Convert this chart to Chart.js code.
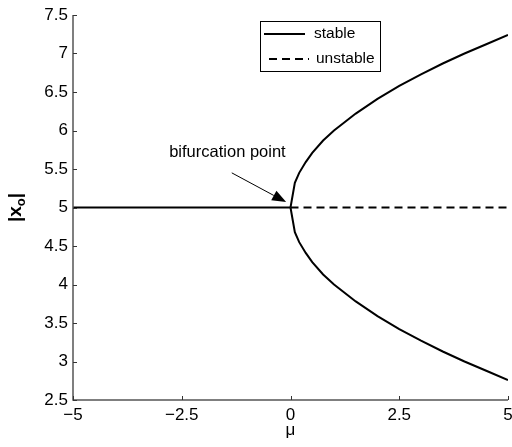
<!DOCTYPE html>
<html>
<head>
<meta charset="utf-8">
<script src="https://cdn.jsdelivr.net/npm/chart.js@4.4.1/dist/chart.umd.min.js"></script>
<style>
  html, body { margin: 0; padding: 0; background: #fff; }
  #wrap { width: 512px; height: 447px; position: relative; }
</style>
</head>
<body>
<div id="wrap"><canvas id="c" width="512" height="447"></canvas></div>
<script>
// ---- data ----
const stableLeftX = [-5, 0];
const stableLeftY = [5, 5];
const branchMu    = [0, 0.1, 0.2, 0.35, 0.5, 0.75, 1, 1.5, 2, 2.5, 3, 3.5, 4, 4.5, 5];
const branchUpper = [5, 5.32, 5.45, 5.59, 5.71, 5.87, 6.0, 6.22, 6.41, 6.58, 6.73, 6.87, 7.0, 7.12, 7.24];
const branchLower = [5, 4.68, 4.55, 4.41, 4.29, 4.13, 4.0, 3.78, 3.59, 3.42, 3.27, 3.13, 3.0, 2.88, 2.76];
const unstableX   = [0, 5];
const unstableY   = [5, 5];
const xTickValues = [-5, -2.5, 0, 2.5, 5];
const xTickLabels = ['\u22125', '\u22122.5', '0', '2.5', '5'];
const yTickValues = [2.5, 3, 3.5, 4, 4.5, 5, 5.5, 6, 6.5, 7, 7.5];
const yTickLabels = ['2.5', '3', '3.5', '4', '4.5', '5', '5.5', '6', '6.5', '7', '7.5'];
const legendLabels = ['stable', 'unstable'];
const annotationText = 'bifurcation point';

const pts = (xs, ys) => xs.map((x, i) => ({ x: x, y: ys[i] }));
const FONT = '"Liberation Sans", Arial, Helvetica, sans-serif';

const lineBase = { borderColor: '#000', borderWidth: 2, pointRadius: 0, fill: false, tension: 0 };

const datasets = [
  Object.assign({ label: legendLabels[0], data: pts(stableLeftX, stableLeftY) }, lineBase),
  Object.assign({ label: legendLabels[0], data: pts(branchMu, branchUpper) }, lineBase),
  Object.assign({ label: legendLabels[0], data: pts(branchMu, branchLower) }, lineBase),
  Object.assign({ label: legendLabels[1], data: pts(unstableX, unstableY), borderDash: [8, 5] }, lineBase)
];

const decorPlugin = {
  id: 'decor',
  afterDraw(chart) {
    const ctx = chart.ctx;
    const xs = chart.scales.x, ys = chart.scales.y;
    const ca = chart.chartArea;
    ctx.save();
    // axes lines
    ctx.strokeStyle = '#555';
    ctx.lineWidth = 1.5;
    ctx.beginPath();
    ctx.moveTo(ca.left, ca.top);
    ctx.lineTo(ca.left, ca.bottom);
    ctx.lineTo(ca.right, ca.bottom);
    ctx.stroke();
    // inward tick marks
    ctx.lineWidth = 1;
    ctx.strokeStyle = '#333';
    ctx.beginPath();
    yTickValues.forEach(v => {
      const py = Math.round(ys.getPixelForValue(v)) + 0.5;
      ctx.moveTo(ca.left, py); ctx.lineTo(ca.left + 4, py);
    });
    xTickValues.forEach(v => {
      const px = Math.round(xs.getPixelForValue(v)) + 0.5;
      ctx.moveTo(px, ca.bottom); ctx.lineTo(px, ca.bottom - 4);
    });
    ctx.stroke();

    // legend box
    const lx = ca.left + 187, ly = ca.top + 6, lw = 120, lh = 50;
    ctx.fillStyle = '#fff';
    ctx.fillRect(lx, ly, lw, lh);
    ctx.strokeStyle = '#000';
    ctx.lineWidth = 1;
    ctx.strokeRect(lx + 0.5, ly + 0.5, lw, lh);
    ctx.font = '15.5px ' + FONT;
    ctx.fillStyle = '#000';
    ctx.textBaseline = 'middle';
    ctx.textAlign = 'left';
    // stable
    ctx.lineWidth = 2;
    ctx.setLineDash([]);
    ctx.beginPath();
    ctx.moveTo(lx + 4, ly + 13); ctx.lineTo(lx + 45, ly + 13);
    ctx.stroke();
    ctx.fillText(legendLabels[0], lx + 54, ly + 13);
    ctx.setLineDash([8, 5]);
    ctx.beginPath();
    ctx.moveTo(lx + 9, ly + 38); ctx.lineTo(lx + 49, ly + 38);
    ctx.stroke();
    ctx.setLineDash([]);
    ctx.fillText(legendLabels[1], lx + 56, ly + 38);

    // annotation
    ctx.font = '16.5px ' + FONT;
    ctx.textAlign = 'center';
    ctx.fillText(annotationText, xs.getPixelForValue(-1.45), ys.getPixelForValue(5.71));
    const x0 = xs.getPixelForValue(-1.35), y0 = ys.getPixelForValue(5.45);
    const x1 = xs.getPixelForValue(-0.1), y1 = ys.getPixelForValue(5.07);
    const ang = Math.atan2(y1 - y0, x1 - x0);
    const hl = 14, hw = 5.5;
    const bx = x1 - hl * Math.cos(ang), by = y1 - hl * Math.sin(ang);
    ctx.lineWidth = 1;
    ctx.strokeStyle = '#000';
    ctx.beginPath();
    ctx.moveTo(x0, y0); ctx.lineTo(bx, by);
    ctx.stroke();
    ctx.beginPath();
    ctx.moveTo(x1, y1);
    ctx.lineTo(bx + hw * Math.sin(ang), by - hw * Math.cos(ang));
    ctx.lineTo(bx - hw * Math.sin(ang), by + hw * Math.cos(ang));
    ctx.closePath();
    ctx.fill();

    // y title |x_o|
    ctx.save();
    ctx.translate(15, (ca.top + ca.bottom) / 2);
    ctx.rotate(-Math.PI / 2);
    ctx.textAlign = 'left';
    ctx.textBaseline = 'alphabetic';
    const big = 'bold 19px ' + FONT, small = 'bold 13px ' + FONT;
    ctx.font = big;
    const w1 = ctx.measureText('|x').width;
    ctx.font = small;
    const w2 = ctx.measureText('o').width;
    ctx.font = big;
    const w3 = ctx.measureText('|').width;
    let sx = -(w1 + w2 + w3) / 2;
    ctx.fillText('|x', sx, 6);
    ctx.font = small;
    ctx.fillText('o', sx + w1, 10);
    ctx.font = big;
    ctx.fillText('|', sx + w1 + w2, 6);
    ctx.restore();

    // x title mu
    ctx.font = '17px ' + FONT;
    ctx.textAlign = 'center';
    ctx.textBaseline = 'middle';
    ctx.fillText('\u03bc', xs.getPixelForValue(0), 430);
    ctx.restore();
  }
};

new Chart(document.getElementById('c'), {
  type: 'line',
  data: { datasets: datasets },
  options: {
    responsive: false,
    animation: false,
    parsing: true,
    layout: { padding: { top: 15, right: 4, left: 0, bottom: 0 } },
    plugins: { legend: { display: false }, tooltip: { enabled: false } },
    scales: {
      x: {
        type: 'linear', min: -5, max: 5,
        afterBuildTicks(scale) { scale.ticks = xTickValues.map(v => ({ value: v })); },
        afterFit(scale) { scale.height = 47; scale.paddingLeft = 0; scale.paddingRight = 0; },
        grid: { display: false, drawTicks: false },
        border: { display: false },
        ticks: {
          autoSkip: false, maxRotation: 0, padding: 5, color: '#000',
          font: { family: FONT, size: 17 },
          callback: (v) => { const i = xTickValues.indexOf(v); return i >= 0 ? xTickLabels[i] : ''; }
        }
      },
      y: {
        type: 'linear', min: 2.5, max: 7.5,
        afterBuildTicks(scale) { scale.ticks = yTickValues.map(v => ({ value: v })); },
        afterFit(scale) { scale.width = 73; scale.paddingTop = 0; scale.paddingBottom = 0; },
        grid: { display: false, drawTicks: false },
        border: { display: false },
        ticks: {
          autoSkip: false, padding: 5, color: '#000',
          font: { family: FONT, size: 17 },
          callback: (v) => { const i = yTickValues.indexOf(v); return i >= 0 ? yTickLabels[i] : ''; }
        }
      }
    }
  },
  plugins: [decorPlugin]
});
</script>
</body>
</html>
